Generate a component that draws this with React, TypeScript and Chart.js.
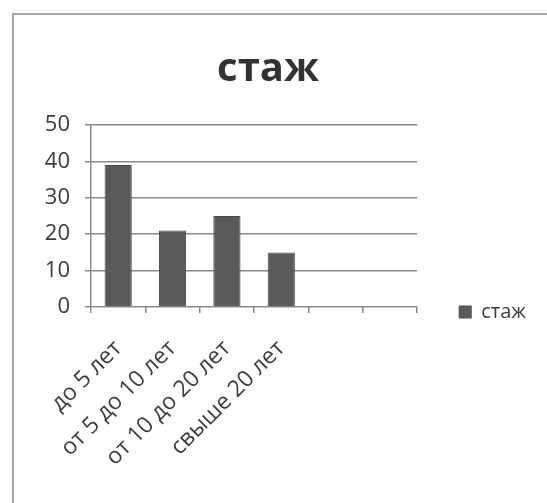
import { useEffect, useRef } from "react";
import { Chart, registerables } from "chart.js";

Chart.register(...registerables);

const categories = ["до 5 лет", "от 5 до 10 лет", "от 10 до 20 лет", "свыше 20 лет", "", ""];
const values: (number | null)[] = [39, 21, 25, 15, null, null];
const seriesName = "стаж";
const titleText = "стаж";
const yMin = 0;
const yMax = 50;
const yStep = 10;

const FONT = "'Open Sans', 'DejaVu Sans', sans-serif";
const TEXT = "#3c3c3c";
const GRID = "#8a8a8a";

export default function App() {
  const ref = useRef<HTMLCanvasElement | null>(null);

  useEffect(() => {
    if (!ref.current) return;
    const chart = new Chart(ref.current, {
      type: "bar",
      data: {
        labels: categories,
        datasets: [
          {
            label: seriesName,
            data: values,
            backgroundColor: "#5a5a5a",
            borderColor: "#4a4a4a",
            borderWidth: 1,
            barPercentage: 0.5,
            categoryPercentage: 1,
          },
        ],
      },
      options: {
        responsive: false,
        animation: false,
        devicePixelRatio: 1,
        layout: { padding: { top: 0, left: 0, right: 0, bottom: 0 } },
        plugins: {
          title: {
            display: true,
            text: titleText,
            color: "#333",
            font: { family: FONT, size: 40, weight: "bold" },
            padding: { top: 46, bottom: 31 },
          },
          legend: {
            display: true,
            position: "right",
            align: "start",
            title: {
              display: true,
              text: " ",
              font: { family: FONT, size: 10 },
              padding: { top: 248, bottom: 0 },
            },
            labels: {
              boxWidth: 12,
              boxHeight: 12,
              padding: 42,
              color: TEXT,
              font: { family: FONT, size: 20 },
            },
          },
          tooltip: { enabled: false },
        },
        scales: {
          x: {
            offset: true,
            grid: {
              display: true,
              offset: true,
              drawOnChartArea: false,
              drawTicks: true,
              tickLength: 6,
              color: GRID,
              lineWidth: 1.5,
            },
            border: { display: false },
            ticks: {
              autoSkip: false,
              maxRotation: 45,
              minRotation: 45,
              padding: 22,
              color: TEXT,
              font: { family: FONT, size: 23 },
            },
            afterFit: (s: any) => {
              s.height = 196;
            },
          },
          y: {
            min: yMin,
            max: yMax,
            ticks: {
              stepSize: yStep,
              padding: 15,
              color: TEXT,
              font: { family: FONT, size: 22 },
            },
            grid: {
              color: GRID,
              lineWidth: 1.5,
              tickLength: 6,
              drawTicks: true,
            },
            border: { display: true, color: GRID, width: 1.5 },
            afterFit: (s: any) => {
              s.width = 91;
            },
          },
        },
      },
    });
    return () => chart.destroy();
  }, []);

  return (
    <>
      <canvas
        ref={ref}
        width={536}
        height={503}
        style={{ position: "fixed", left: 0, top: 0, width: 536, height: 503 }}
      />
      <div
        style={{
          position: "fixed",
          left: 12,
          top: 13,
          width: 700,
          height: 700,
          borderLeft: "2px solid #a6a6a6",
          borderTop: "2px solid #a6a6a6",
          pointerEvents: "none",
        }}
      />
    </>
  );
}
